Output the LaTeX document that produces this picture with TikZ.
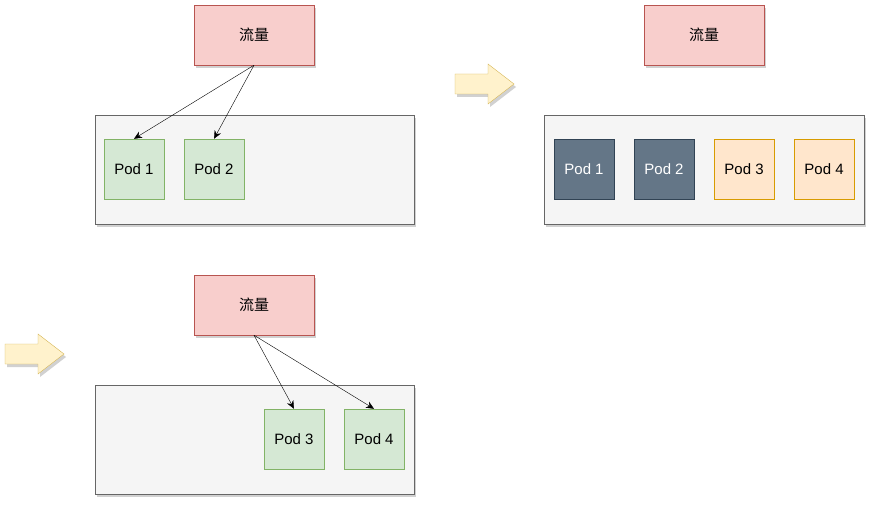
\documentclass[tikz,border=0pt]{standalone}
\usepackage{fontspec}
\setmainfont{Liberation Sans}
\newfontfamily\cjkfont{Noto Sans CJK SC}
\usepackage{tikz}
\usetikzlibrary{
  positioning,
  arrows.meta,
  shadows
}
\definecolor{trafficFill}{HTML}{F8CECC}
\definecolor{trafficLine}{HTML}{B85450}
\definecolor{groupFill}{HTML}{F5F5F5}
\definecolor{groupLine}{HTML}{666666}
\definecolor{podFill}{HTML}{D5E8D4}
\definecolor{podLine}{HTML}{82B366}
\definecolor{oldFill}{HTML}{647687}
\definecolor{oldLine}{HTML}{314354}
\definecolor{newFill}{HTML}{FFE6CC}
\definecolor{newLine}{HTML}{D79B00}
\definecolor{stepFill}{HTML}{FFF2CC}
\definecolor{stepLine}{HTML}{D6B656}
\tikzstyle{shade}=[drop shadow={shadow xshift=2pt, shadow yshift=-3pt, opacity=0.18, fill=black}]
\tikzstyle{traffic}=[draw=trafficLine, fill=trafficFill, shade, minimum width=120pt, minimum height=60pt, font=\cjkfont\fontsize{15}{18}\selectfont]
\tikzstyle{group}=[draw=groupLine, fill=groupFill, shade]
\tikzstyle{pod}=[draw=podLine, fill=podFill, minimum size=60pt, font=\fontsize{15}{18}\selectfont]
\tikzstyle{oldpod}=[pod, draw=oldLine, fill=oldFill, text=white]
\tikzstyle{newpod}=[pod, draw=newLine, fill=newFill]
\tikzstyle{flow}=[-{Stealth[length=8pt, width=7pt]}, thin]
\tikzstyle{stepArrow}=[draw=stepLine, fill=stepFill, shade]

\begin{document}
\begin{tikzpicture}[x=1pt, y=-1pt]
      \useasboundingbox (0,0) rectangle (875,505);

      % 左上：Pod 1, Pod 2
      \node[traffic] (T1) at (254,35) {流量};
      \draw[group] (95,115) rectangle (414,224);
      \node[pod] (P1) at (134,169) {Pod 1};
      \node[pod] (P2) at (214,169) {Pod 2};
      \draw[flow] (T1.south) -- (P1.north);
      \draw[flow] (T1.south) -- (P2.north);

      % 右上：新旧 Pod 共存
      \node[traffic] (T2) at (704,35) {流量};
      \draw[group] (544,115) rectangle (864,224);
      \node[oldpod] (Q1) at (584,169) {Pod 1};
      \node[oldpod] (Q2) at (664,169) {Pod 2};
      \node[newpod] (Q3) at (744,169) {Pod 3};
      \node[newpod] (Q4) at (824,169) {Pod 4};

      % 下：Pod 3, Pod 4
      \node[traffic] (T3) at (254,305) {流量};
      \draw[group] (95,385) rectangle (414,494);
      \node[pod] (R3) at (294,439) {Pod 3};
      \node[pod] (R4) at (374,439) {Pod 4};
      \draw[flow] (T3.south) -- (R3.north);
      \draw[flow] (T3.south) -- (R4.north);

      % 矢印
      \draw[stepArrow] (455,74) -- (488,74) -- (488,64) -- (514,84) -- (488,104) -- (488,94) -- (455,94) -- cycle;
      \draw[stepArrow] (5,344) -- (38,344) -- (38,334) -- (64,354) -- (38,374) -- (38,364) -- (5,364) -- cycle;
    \end{tikzpicture}
\end{document}
